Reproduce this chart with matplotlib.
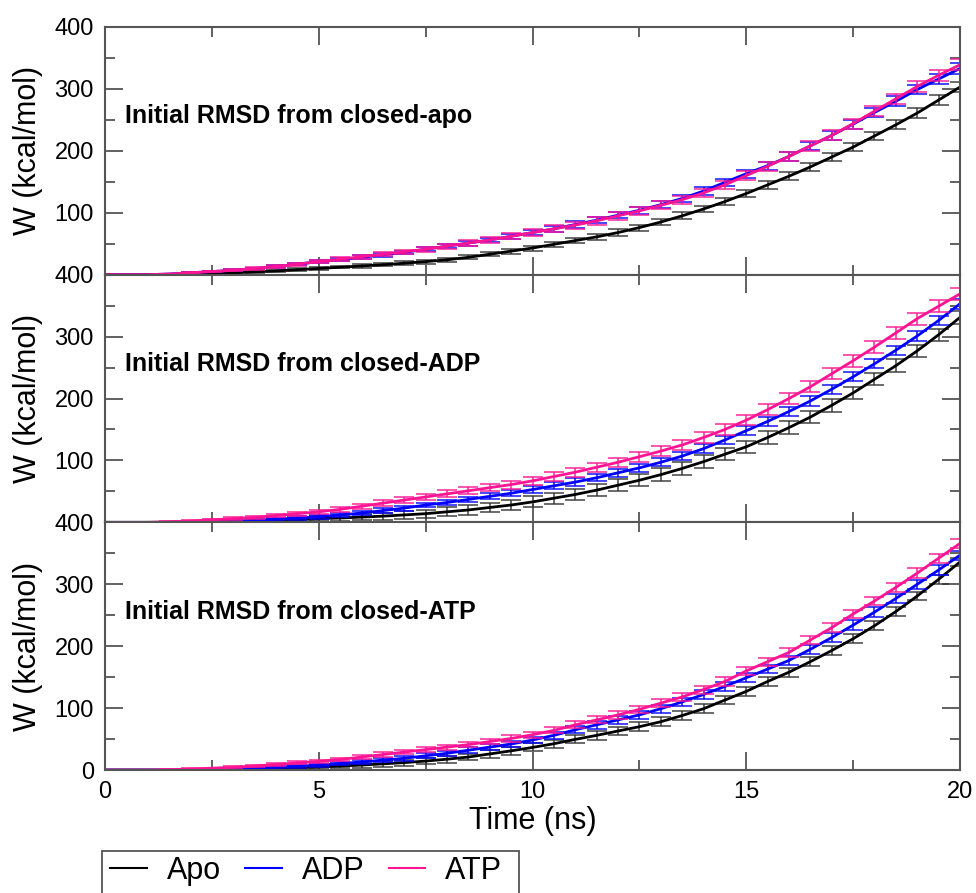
import numpy as np
import matplotlib.pyplot as plt
from matplotlib.ticker import MultipleLocator
from matplotlib.lines import Line2D
from matplotlib.patches import Rectangle

plt.rcParams['font.family'] = ['Liberation Sans', 'DejaVu Sans']

# time axis of the pulling runs (ns), sampled every 0.5 ns
time_ns = np.arange(0, 20.01, 0.5)

panel_titles = ['Initial RMSD from closed-apo',
                'Initial RMSD from closed-ADP',
                'Initial RMSD from closed-ATP']
series_names = ['Apo', 'ADP', 'ATP']
series_colors = ['black', '#0000ff', '#ff1493']
errbar_colors = ['#333333', '#0000ff', '#ff1493']

# accumulated work W (kcal/mol), one list per ligand state and panel
w_apo_1 = [0, 0, 0, 0.5, 1, 2, 3, 4.5, 6, 8,
           10, 12, 14, 16, 18.5, 21, 24, 28, 33, 38,
           43, 49, 55, 61, 68, 76, 85, 95, 106, 118,
           131, 145, 159, 174, 190, 206, 224, 242, 261, 282, 303]
w_adp_1 = [0, 0, 0, 1, 3, 5, 7, 10, 13, 17,
           21, 24, 28, 32, 36, 41, 46, 51, 56, 62,
           68, 74, 81, 88, 96, 104, 113, 123, 135, 149,
           163, 176, 191, 208, 225, 243, 262, 280, 299, 316, 333]
w_atp_1 = [0, 0, 0, 1, 3, 5, 7, 10, 13, 17,
           21, 25, 29, 33, 37, 41, 46, 51, 56, 62,
           68, 74, 80, 87, 95, 103, 112, 121, 132, 145,
           160, 175, 191, 208, 225, 244, 264, 284, 304, 322, 339]

w_apo_2 = [0, 0, 0, 0, 0.5, 1, 1.5, 2, 3, 4,
           6, 7, 8.5, 10, 12, 14, 17, 20, 24, 28,
           33, 39, 45, 52, 60, 68, 77, 87, 98, 110,
           122, 137, 153, 170, 189, 209, 231, 253, 277, 303, 331]
w_adp_2 = [0, 0, 0, 0, 0.5, 1, 2, 3, 5, 7,
           9, 12, 15, 19, 23, 28, 32, 37, 42, 47,
           53, 59, 65, 72, 80, 88, 97, 107, 119, 133,
           148, 163, 179, 196, 215, 235, 256, 278, 301, 326, 353]
w_atp_2 = [0, 0, 0, 1, 2, 4, 6, 8, 11, 14,
           17, 21, 26, 31, 36, 41, 46, 51, 56, 61,
           67, 74, 81, 89, 97, 106, 115, 125, 137, 150,
           165, 182, 200, 219, 240, 261, 283, 306, 329, 349, 369]

w_apo_3 = [0, 0, 0, 0, 0, 0.5, 1, 1.5, 2.5, 3.5,
           5, 6.5, 8, 10, 12, 14.5, 17.5, 21, 26, 31,
           36.5, 42.5, 49.5, 56, 63, 70, 78, 88, 99, 113,
           127, 143, 158, 175, 193, 212, 233, 256, 281, 308, 336]
w_adp_3 = [0, 0, 0, 0, 0.5, 1, 2, 3, 4.5, 6,
           8, 10.5, 13, 16, 19, 23, 27, 32, 37, 42,
           48.5, 56, 65, 73, 81, 89, 99, 110, 122, 135,
           149, 163, 177, 195, 214, 234, 255, 277, 300, 323, 347]
w_atp_3 = [0, 0, 0, 0.5, 1.5, 3, 4.5, 6.5, 9, 11.5,
           14, 17, 21, 25, 29, 33, 37, 41, 46, 51,
           57, 64, 73, 81, 89, 98, 108, 118, 130, 143,
           160, 175, 190, 210, 230, 252, 273, 295, 318, 342, 366]

# standard errors (kcal/mol)
e_apo_1 = [0, 0, 0, 0, 0.5, 1, 1, 1.5, 1.5, 2,
           2, 2, 2.5, 2.5, 3, 3, 3, 3.5, 3.5, 4,
           4, 4, 4.5, 4.5, 5, 5, 5, 5.5, 5.5, 6,
           6, 6, 6, 6.5, 6.5, 7, 7, 7, 7.5, 7.5, 8]
e_adp_1 = [0, 0, 0, 0.5, 1, 1, 1.5, 1.5, 2, 2,
           2.5, 2.5, 3, 3, 3, 3.5, 3.5, 4, 4, 4,
           4.5, 4.5, 5, 5, 5, 5.5, 5.5, 6, 6, 6,
           6.5, 6.5, 7, 7, 7, 7.5, 7.5, 8, 8, 8, 8.5]
e_atp_1 = [0, 0, 0, 0.5, 1, 1, 1.5, 2, 2, 2.5,
           2.5, 3, 3, 3.5, 3.5, 4, 4, 4.5, 4.5, 5,
           5, 5.5, 5.5, 6, 6, 6, 6.5, 6.5, 7, 7,
           7, 7.5, 7.5, 8, 8, 8, 8.5, 8.5, 9, 9, 9]

e_apo_2 = [0, 0, 0, 0.5, 1, 1.5, 2, 2.5, 3, 3.5,
           4, 4.5, 5, 5.5, 6, 6.5, 7, 7.5, 8, 8.5,
           9, 9, 9, 9.5, 9.5, 9.5, 10, 10, 10, 10,
           10, 10, 10, 10, 10, 10, 10, 10, 10, 10, 10]
e_adp_2 = [0, 0, 0, 0.5, 1, 1, 1.5, 2, 2, 2.5,
           3, 3, 3.5, 3.5, 4, 4, 4.5, 4.5, 5, 5,
           5.5, 5.5, 6, 6, 6, 6.5, 6.5, 6.5, 7, 7,
           7, 7, 7, 7.5, 7.5, 7.5, 7.5, 7.5, 8, 8, 8]
e_atp_2 = [0, 0, 0, 0.5, 1, 1.5, 2, 2, 2.5, 3,
           3.5, 4, 4, 4.5, 5, 5, 5.5, 6, 6, 6.5,
           6.5, 7, 7, 7.5, 7.5, 8, 8, 8, 8.5, 8.5,
           8.5, 9, 9, 9, 9, 9.5, 9.5, 9.5, 9.5, 10, 10]

e_apo_3 = [0, 0, 0, 0, 0.5, 1, 1, 1.5, 2, 2.5,
           3, 3.5, 4, 4.5, 5, 5, 5.5, 5.5, 6, 6,
           6.5, 6.5, 6.5, 7, 7, 7, 7, 7, 7, 7,
           7, 7, 7, 7, 7, 7, 7, 7, 7, 7, 7]
e_adp_3 = [0, 0, 0, 0, 0.5, 1, 1, 1.5, 2, 2,
           2.5, 3, 3, 3.5, 4, 4, 4.5, 5, 5, 5.5,
           5.5, 6, 6, 6, 6.5, 6.5, 6.5, 7, 7, 7,
           7, 7, 7, 7, 7.5, 7.5, 7.5, 7.5, 7.5, 7.5, 7.5]
e_atp_3 = [0, 0, 0, 0.5, 1, 1, 1.5, 2, 2, 2.5,
           2.5, 3, 3, 3.5, 3.5, 4, 4, 4.5, 4.5, 5,
           5, 5, 5.5, 5.5, 6, 6, 6, 6, 6.5, 6.5,
           6.5, 6.5, 7, 7, 7, 7, 7, 7.5, 7.5, 7.5, 7.5]

panels = [
    ([w_apo_1, w_adp_1, w_atp_1], [e_apo_1, e_adp_1, e_atp_1]),
    ([w_apo_2, w_adp_2, w_atp_2], [e_apo_2, e_adp_2, e_atp_2]),
    ([w_apo_3, w_adp_3, w_atp_3], [e_apo_3, e_adp_3, e_atp_3]),
]

spine_color = '#555555'

fig = plt.figure(figsize=(9.76, 8.93), dpi=100)
axes = fig.subplots(3, 1, sharex=True)
fig.subplots_adjust(left=0.1076, right=0.9836, top=0.9698, bottom=0.1377, hspace=0)

for i, (ax, (works, errs)) in enumerate(zip(axes, panels)):
    for w, e, c, ec in zip(works, errs, series_colors, errbar_colors):
        ax.errorbar(time_ns, w, yerr=e, fmt='none', ecolor=ec,
                    elinewidth=1.2, capsize=7.5, capthick=1.2, alpha=0.85)
        ax.plot(time_ns, w, color=c, lw=2.0)

    ax.set_xlim(0, 20)
    ax.set_ylim(0, 400)
    ax.xaxis.set_major_locator(MultipleLocator(5))
    ax.xaxis.set_minor_locator(MultipleLocator(2.5))
    ax.set_yticks([0, 100, 200, 300, 400])
    ax.yaxis.set_minor_locator(MultipleLocator(50))
    if i < 2:
        ax.set_yticklabels(['', '100', '200', '300', '400'])
    ax.tick_params(which='both', direction='in', top=True, right=True,
                   color=spine_color, labelsize=17, width=1.3)
    ax.tick_params(which='major', length=13, pad=8)
    ax.tick_params(which='minor', length=7)
    for sp in ax.spines.values():
        sp.set_color(spine_color)
        sp.set_linewidth(1.5)

    ax.set_ylabel('W (kcal/mol)', fontsize=22, labelpad=8)
    ax.text(0.023, 0.64, panel_titles[i], transform=ax.transAxes,
            fontsize=18, fontweight='bold', va='center', ha='left')

axes[-1].set_xlabel('Time (ns)', fontsize=22, labelpad=2)

# legend box below the x label, running off the bottom edge
fig.patches.append(Rectangle((102 / 976, -0.05), (519 - 102) / 976,
                             0.05 + 1 - 851 / 893, transform=fig.transFigure,
                             facecolor='white', edgecolor=spine_color,
                             linewidth=1.3, zorder=0))
handles = [Line2D([], [], color=c, lw=1.5) for c in series_colors]
fig.legend(handles, series_names, loc='center left',
           bbox_to_anchor=(110 / 976, 1 - 871 / 893), ncol=3,
           fontsize=22, frameon=False, handlelength=1.2, handletextpad=0.65,
           columnspacing=0.8, borderpad=0, borderaxespad=0)

fig.savefig('out.png', dpi=100)
